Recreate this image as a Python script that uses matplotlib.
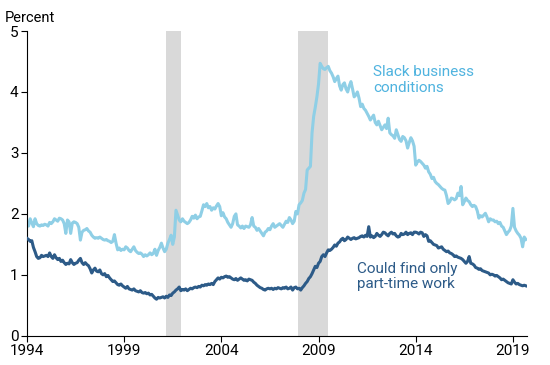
import numpy as np
import pandas as pd
import matplotlib
matplotlib.use("Agg")
import matplotlib.pyplot as plt

plt.rcParams["font.family"] = ["Roboto", "DejaVu Sans"]

# monthly values, Jan 1994 - Sep 2019 (percent)
slack = [
    1.87, 1.80, 1.92, 1.85, 1.79, 1.92, 1.84, 1.81, 1.80, 1.82, 1.81, 1.83,  # 1994
    1.82, 1.80, 1.86, 1.84, 1.87, 1.92, 1.90, 1.88, 1.93, 1.92, 1.90, 1.84,  # 1995
    1.68, 1.90, 1.87, 1.68, 1.85, 1.87, 1.86, 1.84, 1.78, 1.57, 1.70, 1.73,  # 1996
    1.74, 1.76, 1.72, 1.70, 1.65, 1.62, 1.60, 1.61, 1.60, 1.62, 1.60, 1.58,  # 1997
    1.57, 1.58, 1.56, 1.55, 1.53, 1.55, 1.66, 1.52, 1.41, 1.44, 1.40, 1.42,  # 1998
    1.41, 1.46, 1.44, 1.40, 1.38, 1.42, 1.46, 1.40, 1.37, 1.35, 1.36, 1.34,  # 1999
    1.30, 1.33, 1.31, 1.33, 1.36, 1.33, 1.35, 1.42, 1.32, 1.40, 1.45, 1.52,  # 2000
    1.44, 1.38, 1.42, 1.52, 1.58, 1.65, 1.50, 1.62, 2.06, 1.98, 1.90, 1.87,  # 2001
    1.92, 1.88, 1.86, 1.84, 1.86, 1.90, 1.96, 1.93, 1.98, 1.92, 1.95, 1.96,  # 2002
    2.05, 2.15, 2.12, 2.17, 2.10, 2.12, 2.06, 2.10, 2.08, 2.13, 2.17, 2.12,  # 2003
    1.97, 2.02, 1.95, 1.92, 1.86, 1.82, 1.78, 1.84, 1.96, 2.00, 1.82, 1.80,  # 2004
    1.77, 1.80, 1.76, 1.80, 1.79, 1.78, 1.82, 1.94, 1.80, 1.78, 1.73, 1.76,  # 2005
    1.72, 1.68, 1.64, 1.70, 1.72, 1.76, 1.74, 1.80, 1.84, 1.78, 1.80, 1.82,  # 2006
    1.84, 1.81, 1.78, 1.83, 1.88, 1.86, 1.94, 1.90, 1.84, 1.88, 2.04, 2.00,  # 2007
    2.15, 2.18, 2.22, 2.34, 2.40, 2.72, 2.75, 2.78, 3.33, 3.60, 3.75, 3.92,  # 2008
    4.13, 4.47, 4.42, 4.38, 4.37, 4.40, 4.42, 4.35, 4.31, 4.25, 4.17, 4.22,  # 2009
    4.26, 4.10, 4.03, 4.12, 4.15, 4.05, 4.00, 4.10, 4.17, 4.05, 3.92, 3.95,  # 2010
    4.00, 3.90, 3.76, 3.80, 3.73, 3.70, 3.65, 3.60, 3.54, 3.58, 3.62, 3.50,  # 2011
    3.46, 3.52, 3.45, 3.38, 3.42, 3.46, 3.40, 3.57, 3.33, 3.30, 3.28, 3.24,  # 2012
    3.38, 3.30, 3.22, 3.19, 3.27, 3.25, 3.20, 3.08, 3.17, 3.25, 3.20, 3.11,  # 2013
    2.80, 2.85, 2.88, 2.86, 2.83, 2.80, 2.75, 2.78, 2.69, 2.65, 2.58, 2.60,  # 2014
    2.53, 2.50, 2.48, 2.45, 2.42, 2.40, 2.39, 2.30, 2.17, 2.20, 2.26, 2.25,  # 2015
    2.23, 2.25, 2.34, 2.30, 2.45, 2.15, 2.20, 2.26, 2.22, 2.20, 2.15, 2.12,  # 2016
    2.14, 2.12, 2.05, 1.93, 1.97, 1.95, 1.98, 2.01, 1.95, 1.87, 1.92, 1.90,  # 2017
    1.90, 1.87, 1.88, 1.84, 1.86, 1.80, 1.78, 1.72, 1.66, 1.70, 1.73, 1.80,  # 2018
    2.09, 1.78, 1.72, 1.68, 1.65, 1.60, 1.46, 1.62, 1.58,                    # 2019
]

part_time = [
    1.60, 1.58, 1.55, 1.56, 1.45, 1.38, 1.30, 1.27, 1.28, 1.32, 1.30, 1.31,  # 1994
    1.32, 1.30, 1.36, 1.30, 1.27, 1.33, 1.28, 1.25, 1.27, 1.22, 1.24, 1.20,  # 1995
    1.17, 1.19, 1.18, 1.25, 1.20, 1.17, 1.19, 1.20, 1.24, 1.27, 1.20, 1.17,  # 1996
    1.20, 1.17, 1.15, 1.10, 1.03, 1.08, 1.11, 1.06, 1.05, 1.08, 1.02, 1.00,  # 1997
    1.02, 0.97, 0.99, 0.95, 0.92, 0.89, 0.90, 0.87, 0.84, 0.83, 0.85, 0.82,  # 1998
    0.80, 0.78, 0.81, 0.77, 0.76, 0.75, 0.77, 0.74, 0.73, 0.72, 0.74, 0.71,  # 1999
    0.70, 0.71, 0.69, 0.70, 0.67, 0.68, 0.65, 0.62, 0.60, 0.63, 0.62, 0.63,  # 2000
    0.64, 0.62, 0.65, 0.63, 0.67, 0.66, 0.70, 0.72, 0.75, 0.77, 0.80, 0.74,  # 2001
    0.76, 0.75, 0.77, 0.74, 0.76, 0.78, 0.77, 0.79, 0.80, 0.79, 0.81, 0.80,  # 2002
    0.83, 0.82, 0.84, 0.83, 0.85, 0.84, 0.86, 0.84, 0.89, 0.92, 0.95, 0.93,  # 2003
    0.96, 0.95, 0.97, 0.98, 0.96, 0.97, 0.95, 0.93, 0.92, 0.94, 0.91, 0.93,  # 2004
    0.95, 0.93, 0.91, 0.92, 0.90, 0.93, 0.92, 0.91, 0.88, 0.86, 0.83, 0.81,  # 2005
    0.79, 0.78, 0.76, 0.75, 0.77, 0.78, 0.77, 0.78, 0.76, 0.78, 0.77, 0.79,  # 2006
    0.78, 0.77, 0.79, 0.78, 0.80, 0.77, 0.78, 0.80, 0.75, 0.79, 0.80, 0.77,  # 2007
    0.78, 0.75, 0.79, 0.82, 0.86, 0.89, 0.94, 0.97, 1.02, 1.08, 1.14, 1.12,  # 2008
    1.19, 1.22, 1.30, 1.33, 1.30, 1.36, 1.41, 1.40, 1.42, 1.45, 1.49, 1.47,  # 2009
    1.52, 1.54, 1.58, 1.60, 1.56, 1.58, 1.62, 1.60, 1.58, 1.60, 1.61, 1.59,  # 2010
    1.60, 1.61, 1.63, 1.64, 1.62, 1.65, 1.63, 1.79, 1.62, 1.64, 1.61, 1.63,  # 2011
    1.68, 1.65, 1.63, 1.66, 1.70, 1.69, 1.66, 1.64, 1.68, 1.70, 1.67, 1.68,  # 2012
    1.64, 1.62, 1.63, 1.68, 1.66, 1.67, 1.70, 1.66, 1.68, 1.69, 1.66, 1.70,  # 2013
    1.70, 1.69, 1.67, 1.70, 1.69, 1.63, 1.66, 1.64, 1.55, 1.56, 1.53, 1.50,  # 2014
    1.49, 1.48, 1.44, 1.45, 1.46, 1.42, 1.40, 1.38, 1.39, 1.36, 1.35, 1.33,  # 2015
    1.30, 1.31, 1.29, 1.28, 1.27, 1.25, 1.22, 1.19, 1.22, 1.30, 1.19, 1.18,  # 2016
    1.16, 1.12, 1.11, 1.09, 1.10, 1.07, 1.06, 1.05, 1.04, 1.03, 1.00, 1.01,  # 2017
    1.00, 0.98, 0.99, 0.97, 0.95, 0.92, 0.93, 0.91, 0.89, 0.87, 0.86, 0.85,  # 2018
    0.92, 0.88, 0.85, 0.86, 0.84, 0.83, 0.82, 0.83, 0.82,                    # 2019
]

recessions = [(2001.17, 2001.92), (2007.92, 2009.50)]
year_ticks = [1994, 1999, 2004, 2009, 2014, 2019]

dates = pd.date_range("1994-01-01", periods=len(slack), freq="MS")
t = dates.year + (dates.month - 1) / 12.0

light = "#8fcfe6"
light_txt = "#4fb3df"
dark = "#2d5b88"

fig, ax = plt.subplots(figsize=(5.5, 3.65), dpi=100)
fig.subplots_adjust(left=0.049, right=0.958, top=0.915, bottom=0.08)

for a, b in recessions:
    ax.axvspan(a, b, color="#d9d9d9", lw=0, zorder=0)

ax.plot(t, slack, color=light, lw=2.2, zorder=2)
ax.plot(t, part_time, color=dark, lw=2.2, zorder=3)

ax.set_xlim(1994, 2019.72)
ax.set_ylim(0, 5)
ax.set_xticks(year_ticks)
ax.set_xticklabels([str(y) for y in year_ticks])
ax.set_yticks(range(0, 6))
ax.tick_params(labelsize=11, length=4, width=0.8, colors="black", pad=2)
for s in ["top", "right"]:
    ax.spines[s].set_visible(False)

ax.text(-0.045, 1.02, "Percent", transform=ax.transAxes, fontsize=10.5,
        ha="left", va="bottom")
ax.text(2011.8, 4.2, "Slack business\nconditions", color=light_txt,
        fontsize=11, ha="left", va="center", linespacing=1.15)
ax.text(2011.0, 0.97, "Could find only\npart-time work", color=dark,
        fontsize=11, ha="left", va="center", linespacing=1.15)

fig.savefig("out.png", dpi=100)
